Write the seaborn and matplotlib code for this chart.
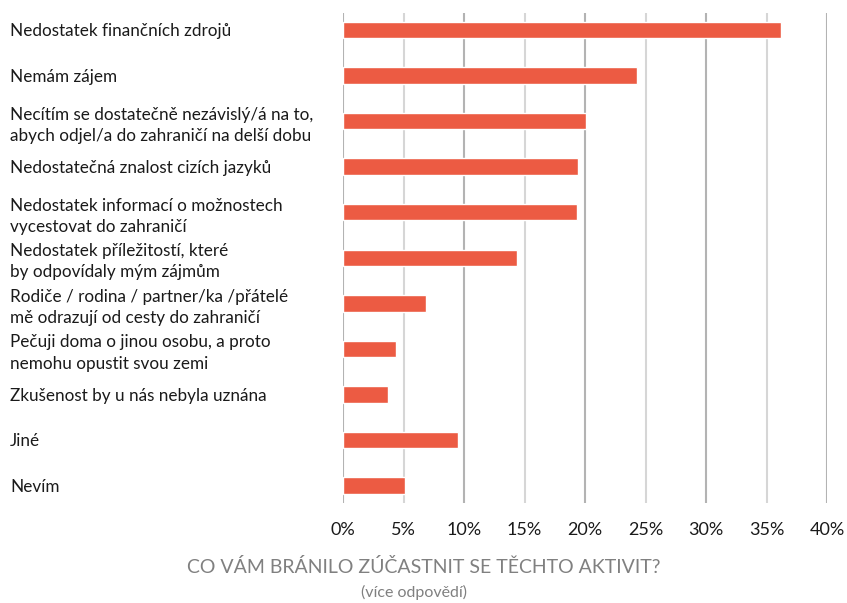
import matplotlib
matplotlib.use("Agg")
import matplotlib.pyplot as plt
import seaborn as sns

# survey answers (share of respondents, %)
reasons = [
    "Nedostatek finančních zdrojů",
    "Nemám zájem",
    "Necítím se dostatečně nezávislý/á na to,\nabych odjel/a do zahraničí na delší dobu",
    "Nedostatečná znalost cizích jazyků",
    "Nedostatek informací o možnostech\nvycestovat do zahraničí",
    "Nedostatek příležitostí, které\nby odpovídaly mým zájmům",
    "Rodiče / rodina / partner/ka /přátelé\nmě odrazují od cesty do zahraničí",
    "Pečuji doma o jinou osobu, a proto\nnemohu opustit svou zemi",
    "Zkušenost by u nás nebyla uznána",
    "Jiné",
    "Nevím",
]
shares = [36.2, 24.3, 20.1, 19.4, 19.3, 14.4, 6.9, 4.4, 3.7, 9.5, 5.1]
x_ticks = [0, 5, 10, 15, 20, 25, 30, 35, 40]

title = "CO VÁM BRÁNILO ZÚČASTNIT SE TĚCHTO AKTIVIT?"
subtitle = "(více odpovědí)"

BAR = "#EC5B43"
TEXT = "#1a1a1a"
GREY = "#808080"

sns.set_style("white")
plt.rcParams["font.family"] = ["Lato", "DejaVu Sans"]

fig = plt.figure(figsize=(8.47, 6.03), dpi=100)
W, H = 847, 603
ax = fig.add_axes([343 / W, 1 - 503 / H, (827 - 343) / W, (503 - 13) / H])

sns.barplot(x=shares, y=reasons, orient="h", color=BAR, saturation=1,
            width=0.36, ax=ax)

ax.set_xlim(0, 40)
ax.set_ylim(10.384, -0.373)
ax.set_xlabel("")
ax.set_ylabel("")
for s in ax.spines.values():
    s.set_visible(False)

ax.set_xticks(x_ticks)
ax.set_xticklabels([f"{t}%" for t in x_ticks])
ax.set_axisbelow(True)
ax.grid(axis="x", linewidth=1.5)
for i, gl in enumerate(ax.get_xgridlines()):
    gl.set_color("#b3b3b3" if i % 2 == 0 else "#d6d6d6")
ax.grid(axis="y", visible=False)

ax.tick_params(axis="x", length=0, pad=14, labelsize=13, labelcolor=TEXT)
ax.tick_params(axis="y", length=0, pad=(343 - 10) * 0.72, labelsize=12.3,
               labelcolor=TEXT)
for lab in ax.get_yticklabels():
    lab.set_horizontalalignment("left")
    lab.set_linespacing(1.4)

fig.text(0.5, 1 - 567 / H, title, ha="center", va="center",
         fontsize=14, color=GREY)
fig.text(414 / W, 1 - 592 / H, subtitle, ha="center", va="center",
         fontsize=11.5, color=GREY)

fig.savefig("out.png", dpi=100)
